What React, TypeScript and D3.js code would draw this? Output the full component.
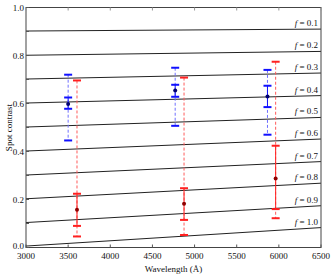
import * as d3 from "d3";

// f-curves: spot contrast at the two ends of the wavelength range
const fLabels = ["0.1", "0.2", "0.3", "0.4", "0.5", "0.6", "0.7", "0.8", "0.9", "1.0"];
const contrastAt3000 = [0.902, 0.801, 0.702, 0.602, 0.502, 0.402, 0.302, 0.203, 0.104, 0.006];
const contrastAt6500 = [0.91, 0.817, 0.727, 0.633, 0.542, 0.452, 0.358, 0.268, 0.174, 0.083];

// blue measurements
const blueWave = [3500, 4770, 5865];
const blueVal = [0.598, 0.654, 0.629];
const blueInnerLo = [0.578, 0.628, 0.585];
const blueInnerHi = [0.625, 0.678, 0.674];
const blueOuterLo = [0.446, 0.507, 0.47];
const blueOuterHi = [0.72, 0.749, 0.74];

// red measurements
const redWave = [3605, 4875, 5962];
const redVal = [0.157, 0.182, 0.288];
const redInnerLo = [0.09, 0.115, 0.16];
const redInnerHi = [0.224, 0.247, 0.424];
const redOuterLo = [0.046, 0.052, 0.122];
const redOuterHi = [0.696, 0.708, 0.774];

const xTicks = [3000, 3500, 4000, 4500, 5000, 5500, 6000, 6500];
const yTicks = [0, 0.1, 0.2, 0.3, 0.4, 0.5, 0.6, 0.7, 0.8, 0.9, 1.0];

const W = 333;
const H = 277;
const margin = { top: 7.5, right: 12, bottom: 29.5, left: 26 };

export default function App() {
  const x = d3.scaleLinear().domain([3000, 6500]).range([margin.left, W - margin.right]);
  const y = d3.scaleLinear().domain([0, 1]).range([H - margin.bottom, margin.top]);
  const font = "'Liberation Serif', 'DejaVu Serif', serif";
  const capW = 4;

  const errGroup = (
    wave: number[], val: number[], iLo: number[], iHi: number[], oLo: number[], oHi: number[],
    cap: string, dash: string, dot: string, key: string
  ) =>
    wave.map((w, i) => {
      const cx = x(w);
      return (
        <g key={key + i}>
          <line x1={cx} x2={cx} y1={y(oHi[i])} y2={y(oLo[i])} stroke={dash} strokeWidth={1} strokeDasharray="3,2" />
          <line x1={cx} x2={cx} y1={y(iHi[i])} y2={y(iLo[i])} stroke={cap} strokeWidth={1} />
          {[oHi[i], oLo[i], iHi[i], iLo[i]].map((v, j) => (
            <line key={j} x1={cx - capW} x2={cx + capW} y1={y(v)} y2={y(v)} stroke={cap} strokeWidth={2} />
          ))}
          <circle cx={cx} cy={y(val[i])} r={2} fill={dot} />
        </g>
      );
    });

  return (
    <div style={{ position: "absolute", left: 0, top: 0 }}>
      <svg width={W} height={H} style={{ display: "block" }}>
        <rect width={W} height={H} fill="#fff" />
        {fLabels.map((f, i) => {
          const y0 = y(contrastAt3000[i]);
          const y1 = y(contrastAt6500[i]);
          return (
            <g key={f}>
              <line x1={x(3000)} x2={x(6500)} y1={y0} y2={y1} stroke="#222" strokeWidth={1} />
              <text x={x(6500) - 3} y={y1 - 3} textAnchor="end" fontFamily={font} fontSize={9} fill="#111">
                <tspan fontStyle="italic">f</tspan> = {f}
              </text>
            </g>
          );
        })}
        {errGroup(blueWave, blueVal, blueInnerLo, blueInnerHi, blueOuterLo, blueOuterHi, "#1010ff", "#7070ff", "#000070", "b")}
        {errGroup(redWave, redVal, redInnerLo, redInnerHi, redOuterLo, redOuterHi, "#ff2020", "#ff5a5a", "#900000", "r")}
        <rect x={x(3000)} y={y(1)} width={x(6500) - x(3000)} height={y(0) - y(1)} fill="none" stroke="#444" strokeWidth={1} />
        {xTicks.map((t) => (
          <g key={t}>
            <line x1={x(t)} x2={x(t)} y1={y(0)} y2={y(0) - 3} stroke="#555" />
            <line x1={x(t)} x2={x(t)} y1={y(1)} y2={y(1) + 3} stroke="#999" />
            <text x={x(t)} y={y(0) + 11} textAnchor="middle" fontFamily={font} fontSize={9} fill="#111">{t}</text>
          </g>
        ))}
        {yTicks.map((t, i) => (
          <g key={t}>
            <line x1={x(3000)} x2={x(3000) + 3} y1={y(t)} y2={y(t)} stroke="#555" />
            {i % 2 === 0 && (
              <text x={x(3000) - 2} y={y(t) + (t === 0 ? 1 : 3)} textAnchor="end" fontFamily={font} fontSize={9} fill="#111">{t.toFixed(1)}</text>
            )}
          </g>
        ))}
        <text x={(x(3000) + x(6500)) / 2} y={H - 5} textAnchor="middle" fontFamily={font} fontSize={9} fill="#111">Wavelength (Å)</text>
        <text transform={`translate(12,${(y(0) + y(1)) / 2}) rotate(-90)`} textAnchor="middle" fontFamily={font} fontSize={9} fill="#111">Spot contrast</text>
      </svg>
    </div>
  );
}
